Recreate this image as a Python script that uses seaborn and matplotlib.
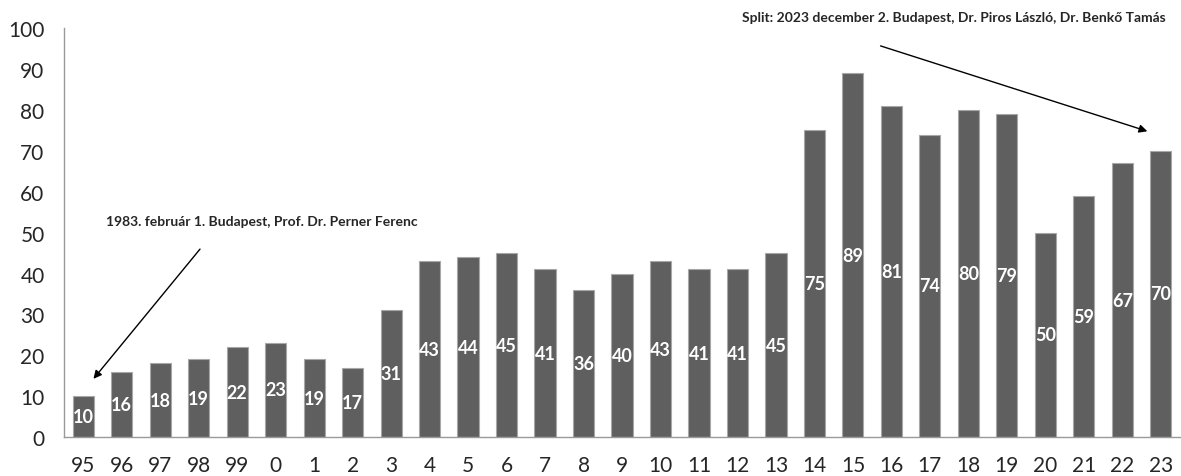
import matplotlib
matplotlib.use("Agg")
import matplotlib.pyplot as plt
import seaborn as sb
import numpy as np

# adatok
years = ["95", "96", "97", "98", "99", "0", "1", "2", "3", "4", "5", "6", "7", "8",
         "9", "10", "11", "12", "13", "14", "15", "16", "17", "18", "19", "20", "21", "22", "23"]
counts = [10, 16, 18, 19, 22, 23, 19, 17, 31, 43, 44, 45, 41, 36,
          40, 43, 41, 41, 45, 75, 89, 81, 74, 80, 79, 50, 59, 67, 70]
note_first = "1983. február 1. Budapest, Prof. Dr. Perner Ferenc"
note_split = "Split: 2023 december 2. Budapest, Dr. Piros László, Dr. Benkő Tamás"

sb.set_style("white")
plt.rcParams["font.family"] = ["Lato", "DejaVu Sans"]

fig = plt.figure(figsize=(11.81, 4.77), dpi=100)
ax = fig.add_axes([64 / 1181, 39 / 477, 1116 / 1181, 408.7 / 477])

sb.barplot(x=years, y=counts, color="#5f5f5f", saturation=1, width=0.55,
           edgecolor="#a8a8a8", linewidth=0.8, ax=ax)
ax.bar_label(ax.containers[0], label_type="center", color="white",
             fontsize=13, fontweight="bold")

ax.set_xlim(-0.5, len(years) - 0.5)
ax.set_ylim(0, 100)
ax.set_yticks(np.arange(0, 101, 10))
ax.set_xticks(np.arange(-0.5, len(years), 1), minor=True)

for s in ["top", "right"]:
    ax.spines[s].set_visible(False)
for s in ["left", "bottom"]:
    ax.spines[s].set_color("#9a9a9a")
    ax.spines[s].set_linewidth(1)

ax.tick_params(axis="x", which="major", length=0, pad=13, labelsize=15)
ax.tick_params(axis="x", which="minor", length=5, color="#9a9a9a", direction="out")
ax.tick_params(axis="y", length=5, color="#9a9a9a", direction="out", pad=9, labelsize=15)
ax.set_xlabel("")
ax.set_ylabel("")

# nyilak, feliratok
ax.annotate("", xy=(0.22, 13.7), xytext=(3.08, 46.5),
            arrowprops=dict(arrowstyle="-|>", color="black", lw=1, mutation_scale=12))
ax.text(4.64, 52.9, note_first, ha="center", va="center", fontsize=10, fontweight="bold")
ax.annotate("", xy=(27.72, 74.6), xytext=(20.65, 95.9),
            arrowprops=dict(arrowstyle="-|>", color="black", lw=1, mutation_scale=12),
            annotation_clip=False)
ax.text(22.62, 102.8, note_split, ha="center", va="center", fontsize=10,
        fontweight="bold", clip_on=False)

plt.savefig("out.png", dpi=100)
